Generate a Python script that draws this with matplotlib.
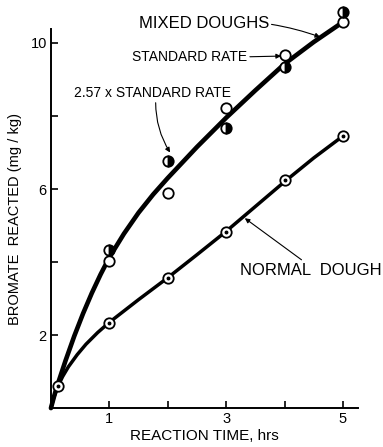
import matplotlib
matplotlib.use("Agg")
import matplotlib.pyplot as plt

plt.rcParams['font.family'] = ['Liberation Sans', 'DejaVu Sans']

# fitted curves
mixed_curve_x = [0, 0.05, 0.1, 0.25, 0.4, 0.55, 0.7, 0.85, 1.0, 1.25, 1.5, 1.75, 2.0,
                 2.5, 3.0, 3.5, 4.0, 4.5, 4.98]
mixed_curve_y = [0, 0.3, 0.575, 1.3, 1.975, 2.59, 3.15, 3.66, 4.125, 4.775, 5.35, 5.85, 6.3,
                 7.15, 7.95, 8.7, 9.425, 10.025, 10.55]
normal_curve_x = [0, 0.05, 0.12, 0.2, 0.3, 0.45, 0.6, 0.8, 1.0, 1.5, 2.0, 2.5, 3.0, 3.5, 4.0, 4.5, 5.0]
normal_curve_y = [0, 0.3, 0.6, 0.864, 1.134, 1.464, 1.749, 2.069, 2.349, 2.97, 3.57, 4.2, 4.84,
                  5.52, 6.2, 6.85, 7.45]

# measured points
hours = [1, 2, 3, 4, 5]
standard_rate = [4.03, 5.89, 8.22, 9.67, 10.58]
rate_257 = [4.33, 6.77, 7.67, 9.34, 10.85]
normal_x = [0.12, 1, 2, 3, 4, 5]
normal_y = [0.6, 2.33, 3.56, 4.83, 6.25, 7.45]

fig = plt.figure(figsize=(3.83, 4.47), dpi=100)
ax = fig.add_axes([0.133, 0.087, 0.802, 0.848])

ax.plot(mixed_curve_x, mixed_curve_y, color='black', lw=3.3, solid_capstyle='round',
        solid_joinstyle='round', zorder=2, clip_on=False)
ax.plot(normal_curve_x, normal_curve_y, color='black', lw=2.5, solid_capstyle='round',
        solid_joinstyle='round', zorder=2, clip_on=False)

ax.plot(hours, standard_rate, 'o', ms=7.5, mfc='white', mec='black', mew=1.3, zorder=4,
        clip_on=False)
ax.plot(hours, rate_257, 'o', ms=7.5, mec='black', mew=1.3, fillstyle='right',
        mfc='black', markerfacecoloralt='white', zorder=4, clip_on=False)
ax.plot(normal_x, normal_y, 'o', ms=7.5, mfc='white', mec='black', mew=1.3, zorder=4,
        clip_on=False)
ax.plot(normal_x, normal_y, 'o', ms=1.8, color='black', zorder=5, clip_on=False)

ax.set_xlim(0, 5.26)
ax.set_ylim(0, 10.38)
ax.set_xticks([1, 2, 3, 4, 5])
ax.set_xticklabels(['1', '', '3', '', '5'])
ax.set_yticks([2, 4, 6, 8, 10])
ax.set_yticklabels(['2', '', '6', '', '10'])
for s in ['top', 'right']:
    ax.spines[s].set_visible(False)
for s in ['left', 'bottom']:
    ax.spines[s].set_linewidth(1.4)
ax.tick_params(direction='in', length=5, width=1.2, labelsize=10.5)
ax.tick_params(axis='y', pad=3)
ax.tick_params(axis='x', pad=3)

ax.set_xlabel('REACTION TIME, hrs', fontsize=11, labelpad=2)
ax.set_ylabel('BROMATE  REACTED (mg / kg)', fontsize=10.5, labelpad=6)

arrow = dict(arrowstyle='-|>', color='black', lw=0.8, mutation_scale=7, shrinkA=0, shrinkB=0)

ax.annotate('MIXED DOUGHS', xy=(4.61, 10.16), xytext=(3.73, 10.52), fontsize=12,
            ha='right', va='center', annotation_clip=False,
            arrowprops=dict(arrow, relpos=(1, 0.5), connectionstyle='arc3,rad=-0.05'))
ax.annotate('STANDARD RATE', xy=(3.94, 9.64), xytext=(3.36, 9.62), fontsize=10,
            ha='right', va='center', annotation_clip=False,
            arrowprops=dict(arrow, relpos=(1, 0.5)))
ax.annotate('2.57 x STANDARD RATE', xy=(2.04, 7.0), xytext=(1.74, 8.63), fontsize=10,
            ha='center', va='center', annotation_clip=False,
            arrowprops=dict(arrow, relpos=(0.52, 0), connectionstyle='arc3,rad=0.15'))
ax.annotate('NORMAL  DOUGH', xy=(3.32, 5.2), xytext=(3.24, 3.78), fontsize=12,
            ha='left', va='center', annotation_clip=False,
            arrowprops=dict(arrow, relpos=(0.46, 1)))

fig.savefig('out.png', dpi=100)
